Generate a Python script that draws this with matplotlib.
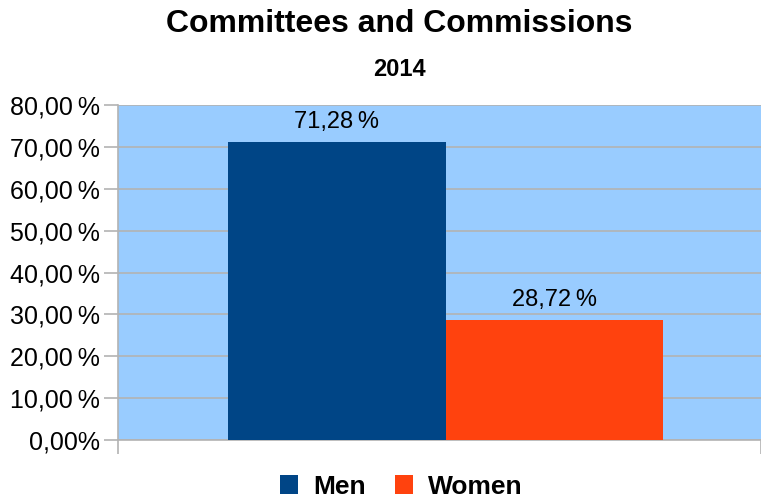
import matplotlib.pyplot as plt

plt.rcParams["font.family"] = ["Liberation Sans", "DejaVu Sans"]

categories = ["Men", "Women"]
shares = [71.28, 28.72]
colors = ["#004586", "#FF420E"]
yticks = [0, 10, 20, 30, 40, 50, 60, 70, 80]
ytick_labels = ["0,00%", "10,00\u2009%", "20,00\u2009%", "30,00\u2009%",
                "40,00\u2009%", "50,00\u2009%", "60,00\u2009%", "70,00\u2009%",
                "80,00\u2009%"]

fig = plt.figure(figsize=(7.61, 5.01), dpi=100)
ax = fig.add_axes([0.155, 0.1218, 0.845, 0.668])
ax.set_facecolor("#99CCFF")

offsets = [-0.5, 0.5]
for name, val, col, off in zip(categories, shares, colors, offsets):
    ax.bar(off, val, width=1.0, color=col, label=name, zorder=3)
    ax.text(off, val + 2.2, f"{val:.2f}".replace(".", ",") + "\u2009%",
            ha="center", va="bottom", fontsize=17, color="black")

ax.set_ylim(0, 80)
ax.set_xlim(-1.506, 1.45)
ax.set_yticks(yticks)
ax.set_yticklabels(ytick_labels, fontsize=18)
ax.set_xticks([-1.506, 1.45])
ax.set_xticklabels([])
ax.tick_params(axis="both", direction="out", length=10, width=1.2,
               color="#B3B3B3", pad=3)
ax.grid(axis="y", color="#B3B3B3", linewidth=1.2, zorder=0)
for side in ["top", "right"]:
    ax.spines[side].set_visible(False)
for side in ["left", "bottom"]:
    ax.spines[side].set_color("#B3B3B3")
    ax.spines[side].set_linewidth(1.2)

fig.text(0.525, 0.952, "Committees and Commissions", ha="center", va="center",
         fontsize=23, fontweight="bold")
fig.text(0.525, 0.862, "2014", ha="center", va="center",
         fontsize=17, fontweight="bold")

fig.legend(*ax.get_legend_handles_labels(), loc="center",
           bbox_to_anchor=(0.527, 0.028), ncol=2, frameon=False,
           prop={"size": 19, "weight": "bold"}, handlelength=0.7,
           handleheight=0.7, handletextpad=0.55, columnspacing=1.1)

fig.savefig("out.png", dpi=100)
